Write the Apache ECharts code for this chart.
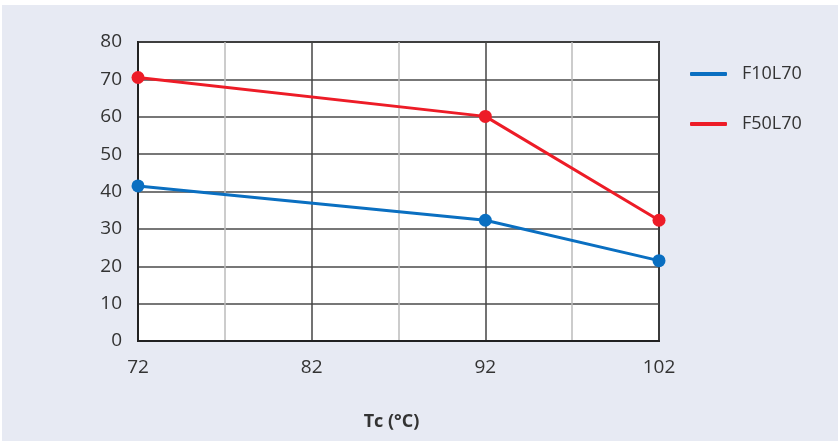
<!DOCTYPE html>
<html>
<head>
<meta charset="utf-8">
<script src="https://cdn.jsdelivr.net/npm/echarts@6/dist/echarts.min.js"></script>
<style>
html,body{margin:0;padding:0;background:#ffffff;}
#c{position:absolute;left:2px;top:5px;width:836px;height:436px;background:#e7eaf3;}
</style>
</head>
<body>
<div id="c"></div>
<script>
var categories = ['72','77','82','87','92','97','102'];
var f10l70 = [41.5, null, null, null, 32.3, null, 21.5];
var f50l70 = [70.5, null, null, null, 60.1, null, 32.3];
var yTicks = { min: 0, max: 80, interval: 10 };
var xName = 'Tc (°C)';

var chart = echarts.init(document.getElementById('c'));
var font = 'Open Sans';
chart.setOption({
  backgroundColor: '#e7eaf3',
  animation: false,
  grid: {
    left: 136, right: 179, top: 37, bottom: 100,
    show: true, backgroundColor: '#ffffff', borderColor: '#222222', borderWidth: 2
  },
  legend: {
    orient: 'vertical',
    left: 688, top: 60,
    padding: 0,
    itemWidth: 37, itemHeight: 4, itemGap: 32,
    icon: 'roundRect',
    textStyle: { fontFamily: font, fontSize: 18, color: '#333333', padding: [0,0,0,10] },
    data: [{name: 'F10L70'}, {name: 'F50L70'}]
  },
  xAxis: {
    type: 'category',
    data: categories,
    boundaryGap: false,
    axisLine: { show: true, lineStyle: { color: '#222222', width: 2 } },
    axisTick: { show: false },
    axisLabel: { interval: 1, margin: 17, fontFamily: font, fontSize: 19, color: '#333333' },
    splitLine: { show: true, interval: 0, lineStyle: { color: ['#444444', '#bbbbbb'], width: 1.5 } },
    name: xName,
    nameLocation: 'middle',
    nameGap: 72,
    nameTextStyle: { fontFamily: font, fontSize: 18, fontWeight: 'bold', color: '#333333', padding: [0, 14, 0, 0] }
  },
  yAxis: {
    type: 'value',
    min: yTicks.min, max: yTicks.max, interval: yTicks.interval,
    axisLine: { show: true, lineStyle: { color: '#222222', width: 2 } },
    axisTick: { show: false },
    axisLabel: { margin: 16, fontFamily: font, fontSize: 19, color: '#333333' },
    splitLine: { show: true, lineStyle: { color: '#4a4a4a', width: 1.5 } }
  },
  series: [
    {
      name: 'F10L70', type: 'line', data: f10l70, connectNulls: true,
      symbol: 'circle', symbolSize: 13,
      lineStyle: { color: '#0a6fc1', width: 3 },
      itemStyle: { color: '#0a6fc1' }
    },
    {
      name: 'F50L70', type: 'line', data: f50l70, connectNulls: true,
      symbol: 'circle', symbolSize: 13,
      lineStyle: { color: '#ed1c27', width: 3 },
      itemStyle: { color: '#ed1c27' }
    }
  ]
});
</script>
</body>
</html>
